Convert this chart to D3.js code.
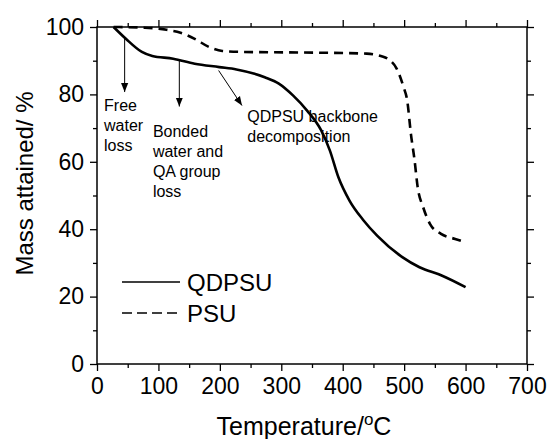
<!DOCTYPE html>
<html>
<head>
<meta charset="utf-8">
<script src="https://cdn.jsdelivr.net/npm/d3@7"></script>
<style>
  html, body { margin: 0; padding: 0; background: #fff; }
  svg { display: block; font-family: Arial, "Liberation Sans", sans-serif; }
</style>
</head>
<body>
<svg id="chart" width="549" height="439"></svg>
<script>
// ---- data ----
const qdpsuT = [27, 47, 73, 90, 124, 159, 199, 227, 273, 296, 319, 342, 365, 379, 393, 411, 434, 456, 497, 525, 562, 600];
const qdpsuM = [100, 96.5, 92.6, 91.4, 90.6, 89.1, 88.1, 87.4, 85.1, 83.2, 79.7, 75.2, 69.3, 63.4, 55.4, 48.5, 42.6, 38.1, 31.7, 28.7, 26.2, 22.8];
const psuT = [27, 78, 113, 136, 159, 182, 204, 239, 353, 439, 462, 477, 488, 499, 505, 511, 517, 522, 531, 542, 560, 583, 600];
const psuM = [100, 99.8, 99.2, 98.3, 96.5, 94.1, 92.9, 92.6, 92.4, 92.1, 91.4, 90.1, 87.6, 82.2, 78.2, 68.3, 60.4, 52.5, 46.5, 41.6, 38.6, 37.1, 36.1];
const seriesNames = ["QDPSU", "PSU"];
const xTicks = [0, 100, 200, 300, 400, 500, 600, 700];
const yTicks = [0, 20, 40, 60, 80, 100];
const xMinor = [50, 150, 250, 350, 450, 550, 650];
const yMinor = [10, 30, 50, 70, 90];
// annotation arrows: [x1, y1, x2, y2] in data units
const arrows = [[45, 96.5, 45, 80.7], [134, 90.1, 134, 76.4], [198, 87.1, 236, 76.7]];
// annotation labels: lines, anchor temperature, first baseline mass
const notes = [
  { lines: ["Free", "water", "loss"], t: 11.5, m: 75 },
  { lines: ["Bonded", "water and", "QA group", "loss"], t: 91, m: 67.3 },
  { lines: ["QDPSU backbone", "decomposition"], t: 244.6, m: 71.8 }
];

// ---- layout ----
const svg = d3.select("#chart");
const L = 97, R = 527, T = 27, B = 364;
const x = d3.scaleLinear().domain([0, 700]).range([L, R]);
const y = d3.scaleLinear().domain([0, 100]).range([B, T]);

// frame
svg.append("rect").attr("x", L).attr("y", T).attr("width", R - L).attr("height", B - T)
  .attr("fill", "none").attr("stroke", "#000").attr("stroke-width", 1.5);

function styleAxis(g, fs) {
  g.select(".domain").remove();
  g.selectAll("line").attr("stroke", "#000").attr("stroke-width", 1.3);
  g.selectAll("text").attr("font-size", fs).attr("fill", "#000")
    .attr("font-family", "Arial, 'Liberation Sans', sans-serif");
}

// bottom
svg.append("g").attr("transform", `translate(0,${B})`)
  .call(d3.axisBottom(x).tickValues(xTicks).tickSize(7).tickPadding(7).tickFormat(d3.format("d")))
  .call(g => styleAxis(g, 23));
svg.append("g").attr("transform", `translate(0,${B})`)
  .call(d3.axisBottom(x).tickValues(xMinor).tickSize(4).tickFormat(""))
  .call(g => styleAxis(g, 0));
// top
svg.append("g").attr("transform", `translate(0,${T})`)
  .call(d3.axisTop(x).tickValues(xTicks).tickSize(7).tickFormat(""))
  .call(g => styleAxis(g, 0));
svg.append("g").attr("transform", `translate(0,${T})`)
  .call(d3.axisTop(x).tickValues(xMinor).tickSize(4).tickFormat(""))
  .call(g => styleAxis(g, 0));
// left
svg.append("g").attr("transform", `translate(${L},0)`)
  .call(d3.axisLeft(y).tickValues(yTicks).tickSize(7).tickPadding(6).tickFormat(d3.format("d")))
  .call(g => styleAxis(g, 23));
svg.append("g").attr("transform", `translate(${L},0)`)
  .call(d3.axisLeft(y).tickValues(yMinor).tickSize(4).tickFormat(""))
  .call(g => styleAxis(g, 0));
// right
svg.append("g").attr("transform", `translate(${R},0)`)
  .call(d3.axisRight(y).tickValues(yTicks).tickSize(7).tickFormat(""))
  .call(g => styleAxis(g, 0));
svg.append("g").attr("transform", `translate(${R},0)`)
  .call(d3.axisRight(y).tickValues(yMinor).tickSize(4).tickFormat(""))
  .call(g => styleAxis(g, 0));

// axis titles
const xt = svg.append("text").attr("x", 304).attr("y", 435).attr("text-anchor", "middle")
  .attr("font-size", 25).attr("fill", "#000");
xt.append("tspan").text("Temperature/");
xt.append("tspan").attr("font-size", 17).attr("dy", -10).text("o");
xt.append("tspan").attr("dy", 10).text("C");

svg.append("text").attr("transform", "translate(33,183.5) rotate(-90)")
  .attr("text-anchor", "middle").attr("font-size", 24).attr("fill", "#000")
  .text("Mass attained/ %");

// curves
const line = d3.line().x(d => x(d[0])).y(d => y(d[1])).curve(d3.curveMonotoneX);
const qd = qdpsuT.map((t, i) => [t, qdpsuM[i]]);
const ps = psuT.map((t, i) => [t, psuM[i]]);
svg.append("path").datum(ps).attr("d", line).attr("fill", "none")
  .attr("stroke", "#000").attr("stroke-width", 2.6).attr("stroke-dasharray", "9,6");
svg.append("path").datum(qd).attr("d", line).attr("fill", "none")
  .attr("stroke", "#000").attr("stroke-width", 2.6);

// arrows
const defs = svg.append("defs");
defs.append("marker").attr("id", "ah").attr("viewBox", "0 0 10 10")
  .attr("refX", 10).attr("refY", 5).attr("markerWidth", 9).attr("markerHeight", 9)
  .attr("markerUnits", "userSpaceOnUse").attr("orient", "auto")
  .append("path").attr("d", "M0,1 L10,5 L0,9 Z").attr("fill", "#000");
svg.selectAll("line.arrow").data(arrows).enter().append("line").attr("class", "arrow")
  .attr("x1", d => x(d[0])).attr("y1", d => y(d[1]))
  .attr("x2", d => x(d[2])).attr("y2", d => y(d[3]))
  .attr("stroke", "#000").attr("stroke-width", 1).attr("marker-end", "url(#ah)");

// annotation texts
notes.forEach(n => {
  const t = svg.append("text").attr("x", x(n.t)).attr("y", y(n.m))
    .attr("font-size", 16).attr("fill", "#000");
  n.lines.forEach((s, i) => {
    t.append("tspan").attr("x", x(n.t)).attr("dy", i === 0 ? 0 : 20).text(s);
  });
});

// legend
const leg = [
  { name: seriesNames[0], dash: null, ly: 282 },
  { name: seriesNames[1], dash: "10,5", ly: 313 }
];
leg.forEach(d => {
  svg.append("line").attr("x1", 122).attr("x2", 180).attr("y1", d.ly).attr("y2", d.ly)
    .attr("stroke", "#000").attr("stroke-width", 1.6)
    .attr("stroke-dasharray", d.dash);
  svg.append("text").attr("x", 187).attr("y", d.ly + 8.5).attr("font-size", 24)
    .attr("fill", "#000").text(d.name);
});
</script>
</body>
</html>
